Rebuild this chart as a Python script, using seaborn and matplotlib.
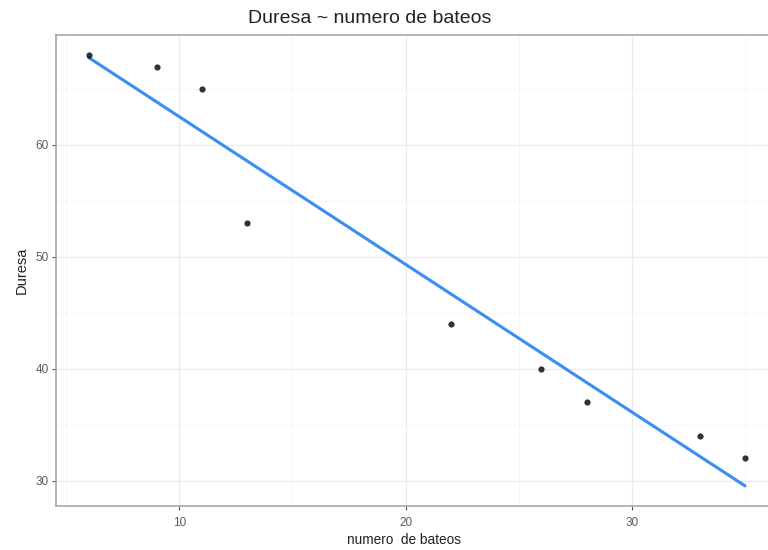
import matplotlib
matplotlib.use("Agg")
import matplotlib.pyplot as plt
import seaborn as sns
import pandas as pd
from matplotlib.ticker import MultipleLocator

bateos = [6, 9, 11, 13, 22, 26, 28, 33, 35]
duresa = [68, 67, 65, 53, 44, 40, 37, 34, 32]
df = pd.DataFrame({"bateos": bateos, "duresa": duresa})

sns.set_theme(style="white")
plt.rcParams['font.family'] = ['Liberation Sans', 'DejaVu Sans']

fig = plt.figure(figsize=(7.68, 5.5), dpi=100)
ax = fig.add_axes([0.0729, 0.08, 0.940, 0.8564])

sns.regplot(data=df, x="bateos", y="duresa", ci=None, ax=ax,
            scatter_kws=dict(color="black", s=20, linewidths=0, zorder=4),
            line_kws=dict(color="#3A8DF5", lw=2.2, zorder=3))

ax.set_xlim(4.55, 36.45)
ax.set_ylim(27.74, 69.83)
ax.xaxis.set_major_locator(MultipleLocator(10))
ax.yaxis.set_major_locator(MultipleLocator(10))
ax.xaxis.set_minor_locator(MultipleLocator(5))
ax.yaxis.set_minor_locator(MultipleLocator(5))
ax.grid(which="major", color="#EBEBEB", lw=1.0)
ax.grid(which="minor", color="#F5F5F5", lw=0.6)
ax.set_axisbelow(True)
for s in ax.spines.values():
    s.set_color("#A8A8A8")
    s.set_linewidth(1.2)
ax.tick_params(axis="both", which="major", length=3, width=0.8, color="#555555",
               labelsize=8.5, labelcolor="#5A5A5A", pad=2, left=True, bottom=True)
ax.tick_params(axis="x", which="major", pad=5)
ax.tick_params(which="minor", length=0)
ax.set_xlabel("")
ax.set_ylabel("Duresa", fontsize=10.5, color="#222222", labelpad=5)
fig.text(404 / 768, 1 - 540 / 550, "numero  de bateos", ha="center", va="center",
         fontsize=9.8, color="#222222")
fig.text(0.482, 0.967, "Duresa ~ numero de bateos", ha="center", va="center",
         fontsize=14, color="#222222")

fig.savefig("out.png", dpi=100)
